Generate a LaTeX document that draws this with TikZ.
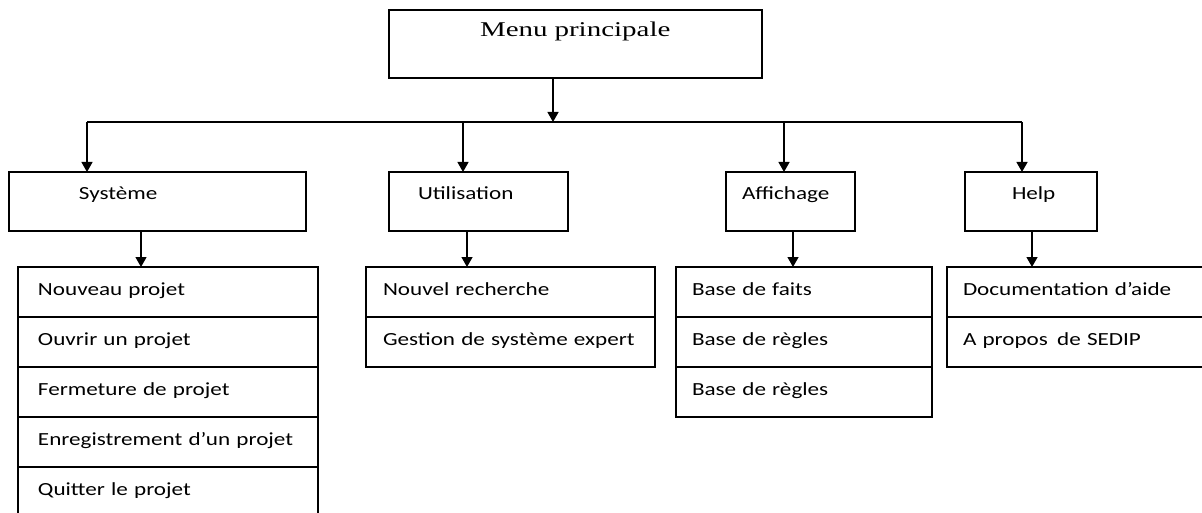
\documentclass[tikz,border=0pt]{standalone}
\usepackage{fontspec}
\usetikzlibrary{arrows.meta}
\newfontfamily\uifont[FakeStretch=1.25]{Carlito}
\newfontfamily\titlefont[FakeStretch=1.38]{Liberation Serif}

\tikzset{
  frame/.style={draw, line width=1.3pt, anchor=north west, inner sep=0pt, outer sep=0pt, align=left},
  headbox/.style={frame, font=\uifont\fontsize{18.5}{20}\selectfont, text height=28pt, text depth=31pt},
  itembox/.style={frame, font=\uifont\fontsize{18.5}{20}\selectfont, text height=28pt, text depth=22pt},
  wire/.style={line width=1.3pt},
  arr/.style={wire, -{Triangle[width=11pt,length=10pt]}},
}

\begin{document}
\begin{tikzpicture}[x=1pt,y=-1pt]
  \useasboundingbox (0,0) rectangle (1202,513);
  \clip (0,0) rectangle (1202,513);

  % main menu
  \node[frame, font=\titlefont\fontsize{21}{24}\selectfont, text width=373pt,
        text height=27pt, text depth=41pt] (menu) at (389,10) {\hspace*{91pt}Menu principale};

  % second level menus
  \node[headbox, text width=297pt] (sys)  at (9,172)   {\hspace*{70pt}Système};
  \node[headbox, text width=179pt] (util) at (389,172) {\hspace*{29pt}Utilisation};
  \node[headbox, text width=129pt] (aff)  at (726,172) {\hspace*{16pt}Affichage};
  \node[headbox, text width=132pt] (help) at (965,172) {\hspace*{47pt}Help};

  % Système entries
  \node[itembox, text width=300pt] (s1) at (18,267)        {\hspace*{20pt}Nouveau projet};
  \node[itembox, text width=300pt] (s2) at (s1.south west) {\hspace*{20pt}Ouvrir un projet};
  \node[itembox, text width=300pt] (s3) at (s2.south west) {\hspace*{20pt}Fermeture de projet};
  \node[itembox, text width=300pt] (s4) at (s3.south west) {\hspace*{20pt}Enregistrement d’un projet};
  \node[itembox, text width=300pt] (s5) at (s4.south west) {\hspace*{20pt}Quitter le projet};

  % Utilisation entries
  \node[itembox, text width=289pt] (u1) at (366,267)       {\hspace*{17pt}Nouvel recherche};
  \node[itembox, text width=289pt] (u2) at (u1.south west) {\hspace*{17pt}Gestion de système expert};

  % Affichage entries
  \node[itembox, text width=256pt] (a1) at (676,267)       {\hspace*{16pt}Base de faits};
  \node[itembox, text width=256pt] (a2) at (a1.south west) {\hspace*{16pt}Base de règles};
  \node[itembox, text width=256pt] (a3) at (a2.south west) {\hspace*{16pt}Base de règles};

  % Help entries
  \node[itembox, text width=262pt] (h1) at (947,267)       {\hspace*{16pt}Documentation d’aide};
  \node[itembox, text width=262pt] (h2) at (h1.south west) {\hspace*{16pt}A propos\, de SEDIP};

  % distribution bus
  \coordinate (b0) at (553,122);
  \coordinate (b1) at (87,122);
  \coordinate (b2) at (463,122);
  \coordinate (b3) at (784,122);
  \coordinate (b4) at (1022,122);
  \draw[arr] (menu.south -| b0) -- (b0);
  \draw[wire] (b1) -- (b4);
  \draw[arr] (b1) -- (b1 |- sys.north);
  \draw[arr] (b2) -- (b2 |- util.north);
  \draw[arr] (b3) -- (b3 |- aff.north);
  \draw[arr] (b4) -- (b4 |- help.north);

  % drops to the entry lists
  \coordinate (c1) at (141,0);
  \coordinate (c2) at (467,0);
  \coordinate (c3) at (793,0);
  \coordinate (c4) at (1032,0);
  \draw[arr] (sys.south -| c1)  -- (s1.north -| c1);
  \draw[arr] (util.south -| c2) -- (u1.north -| c2);
  \draw[arr] (aff.south -| c3)  -- (a1.north -| c3);
  \draw[arr] (help.south -| c4) -- (h1.north -| c4);
\end{tikzpicture}
\end{document}
